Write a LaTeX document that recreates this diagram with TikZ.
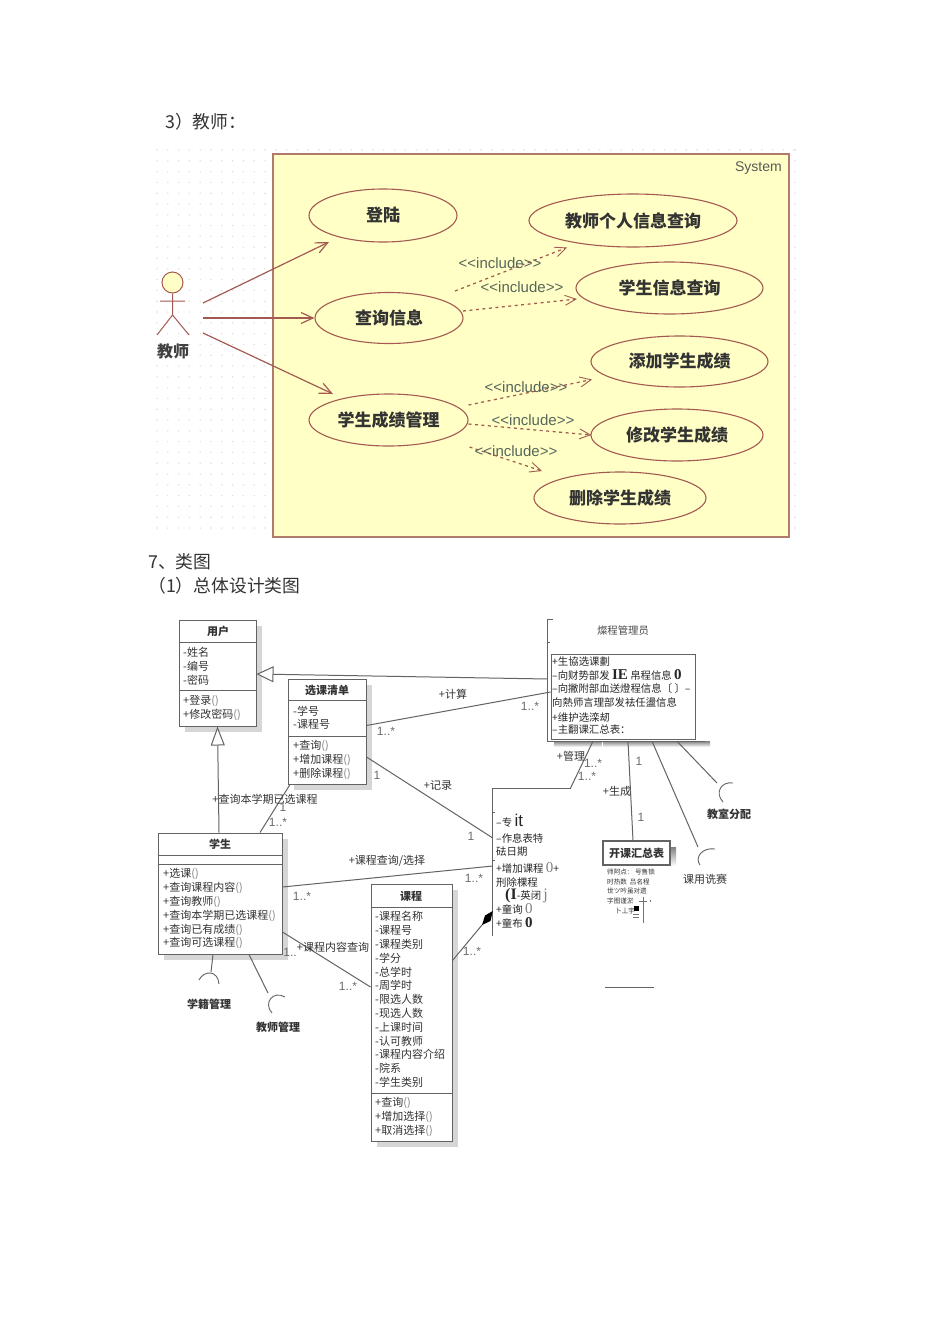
\documentclass[tikz,border=0pt]{standalone}
\usepackage{fontspec}
\setmainfont{Noto Sans CJK SC}
\newfontfamily\lat{Liberation Sans}
\newfontfamily\rom{Liberation Serif}
\usetikzlibrary{arrows.meta,shadows,shapes.geometric}
\definecolor{sysfill}{HTML}{FFFFC6}
\definecolor{brownline}{HTML}{A45A52}
\definecolor{sysline}{HTML}{B07A6C}
\definecolor{incl}{HTML}{56665A}
\definecolor{classline}{HTML}{636363}
\definecolor{shade}{HTML}{D6D6D6}
\definecolor{txt}{HTML}{333333}
\newcommand{\fs}[1]{\fontsize{#1}{#1}\selectfont}
\newcommand{\pp}{\textcolor{gray}{()}}
\tikzset{
  x=1pt,y=-1pt,
  para/.style={anchor=west,inner sep=0pt,font=\fs{17.8},text=txt},
  usecase/.style={ellipse,draw=brownline,fill=sysfill,line width=1.1pt,inner sep=0pt,font=\bfseries\fs{17},text=black!80},
  assoc/.style={draw=brownline,line width=1.2pt,-{Straight Barb[length=12pt,width=11pt]}},
  incline/.style={draw=brownline,line width=1.25pt,dash pattern=on 3pt off 3.5pt,-{Straight Barb[length=11pt,width=10pt,line width=.9pt]}},
  incllabel/.style={inner sep=0pt,font=\lat\fs{15},text=incl},
  classbox/.style={draw=classline,line width=1pt,fill=white,inner sep=0pt,general shadow={fill=shade,shadow xshift=6pt,shadow yshift=-6pt}},
  classname/.style={inner sep=0pt,font=\bfseries\fs{11},text=txt},
  members/.style={anchor=north west,inner sep=0pt,align=left,font=\fontsize{11}{13.8}\selectfont,text=txt},
  rel/.style={draw=classline,line width=1pt},
  relname/.style={inner sep=0pt,font=\fs{11},text=txt},
  mult/.style={inner sep=0pt,font=\lat\fs{12},text=gray!85!black},
  iface/.style={draw=classline,line width=.9pt},
  ifacename/.style={inner sep=0pt,font=\bfseries\fs{11},text=txt},
  mgrline/.style={anchor=west,inner sep=0pt,font=\fs{10.4},text=black!85},
  tiny/.style={anchor=west,inner sep=0pt,font=\fs{6.6},text=txt},
}
\begin{document}
\begin{tikzpicture}
\useasboundingbox (0,0) rectangle (950,1318);
\fill[white] (0,0) rectangle (950,1318);

\node[para] (h3) at (165,122) {3）教师：};
\node[para] (h7) at (148,562) {7、类图};
\node[para] (h1) at (148,586) {（1）总体设计类图};

% ---------- use case background dots
\foreach \i in {0,...,10}{\foreach \j in {0,...,35}{
  \fill[black!13] (157+\i*10.8,150+\j*10.8) circle (.8);}}
\foreach \i in {11,...,59}{\fill[black!13] (157+\i*10.8,150) circle (.8);}
\foreach \j in {0,...,35}{\fill[black!13] (795,150+\j*10.8) circle (.8);}

\node[draw=sysline,fill=sysfill,line width=1.5pt,minimum width=516pt,minimum height=383pt,inner sep=0pt] (system) at (531,345.5) {};
\node[inner sep=0pt,font=\lat\fs{14},text=black!65,anchor=east] (systitle) at (782,168) {System};

\node[usecase,minimum width=148pt,minimum height=53pt] (login) at (383,215.5) {登陆};
\node[usecase,minimum width=148pt,minimum height=51pt] (query) at (389,318) {查询信息};
\node[usecase,minimum width=159pt,minimum height=52pt] (score) at (388.5,420) {学生成绩管理};
\node[usecase,minimum width=208pt,minimum height=53pt] (tinfo) at (633,220.5) {教师个人信息查询};
\node[usecase,minimum width=187pt,minimum height=52pt] (sinfo) at (669.5,288) {学生信息查询};
\node[usecase,minimum width=177pt,minimum height=51pt] (addsc) at (679.5,361.5) {添加学生成绩};
\node[usecase,minimum width=172pt,minimum height=52pt] (modsc) at (677,435) {修改学生成绩};
\node[usecase,minimum width=172pt,minimum height=52pt] (delsc) at (620,498) {删除学生成绩};

% actor
\node[circle,draw=brownline,fill=sysfill,line width=1pt,minimum size=21pt,inner sep=0pt] (head) at (172.5,282.5) {};
\coordinate (hip) at (172.5,315);
\coordinate (armL) at (160,301);
\coordinate (armR) at (185,301);
\coordinate (legL) at (157,335);
\coordinate (legR) at (189,335);
\draw[brownline,line width=1pt] (head.south) -- (hip) (armL) -- (armR) (legL) -- (hip) -- (legR);
\node[inner sep=0pt,font=\bfseries\fs{16},text=black!75] (actorname) at (173,351) {教师};
\coordinate (actorA) at (203,303);
\coordinate (actorB) at (203,318);
\coordinate (actorC) at (203,333);

\draw[assoc] (actorA) -- (329,242) coordinate (loginEnd);
\draw[assoc] (actorB) -- (query.west);
\draw[assoc] (actorC) -- (333,394) coordinate (scoreEnd);

\draw[incline] ([shift={(66,-27)}]query.center) -- ([shift={(-66,27)}]tinfo.center);
\draw[incline] ([shift={(74,-7)}]query.center) -- ([shift={(-92.5,11)}]sinfo.center);
\draw[incline] ([shift={(80,-15)}]score.center) -- ([shift={(-87.5,18)}]addsc.center);
\draw[incline] ([shift={(80,4)}]score.center) -- ([xshift=1pt]modsc.west);
\draw[incline] ([shift={(81,27)}]score.center) -- ([shift={(-78,-27)}]delsc.center);

\node[incllabel] (i1) at (500,263) {<<include>>};
\node[incllabel] (i2) at (522,287) {<<include>>};
\node[incllabel] (i3) at (526,387) {<<include>>};
\node[incllabel] (i4) at (533,420) {<<include>>};
\node[incllabel] (i5) at (516,451) {<<include>>};

% ---------- class diagram
\node[classbox,minimum width=77pt,minimum height=106pt] (user) at (217.5,673) {};
\draw[classline,line width=1pt] ([yshift=-23pt]user.north west) -- ([yshift=-23pt]user.north east)
  ([yshift=-71pt]user.north west) -- ([yshift=-71pt]user.north east);
\node[classname] (userT) at (218,631) {用户};
\node[members] (userA) at (183,647.5) {-姓名\\-编号\\-密码};
\node[members] (userM) at (183,695) {+登录\pp\\+修改密码\pp};

\node[classbox,minimum width=78pt,minimum height=105pt] (list) at (327,731.5) {};
\draw[classline,line width=1pt] ([yshift=-22pt]list.north west) -- ([yshift=-22pt]list.north east)
  ([yshift=-58pt]list.north west) -- ([yshift=-58pt]list.north east);
\node[classname] (listT) at (327,690) {选课清单};
\node[members] (listA) at (293,705.5) {-学号\\-课程号};
\node[members] (listM) at (293,740.5) {+查询\pp\\+增加课程\pp\\+删除课程\pp};

\node[classbox,minimum width=124pt,minimum height=121pt] (student) at (220,893.5) {};
\draw[classline,line width=1pt] ([yshift=-23pt]student.north west) -- ([yshift=-23pt]student.north east)
  ([yshift=-32pt]student.north west) -- ([yshift=-32pt]student.north east);
\node[classname] (studentT) at (220,844) {学生};
\node[members] (studentM) at (163,868.5) {+选课\pp\\+查询课程内容\pp\\+查询教师\pp\\+查询本学期已选课程\pp\\+查询已有成绩\pp\\+查询可选课程\pp};

\node[classbox,minimum width=81pt,minimum height=257pt] (course) at (411.5,1012.5) {};
\draw[classline,line width=1pt] ([yshift=-24pt]course.north west) -- ([yshift=-24pt]course.north east)
  ([yshift=-210pt]course.north west) -- ([yshift=-210pt]course.north east);
\node[classname] (courseT) at (411,896) {课程};
\node[members] (courseA) at (375,911.5) {-课程名称\\-课程号\\-课程类别\\-学分\\-总学时\\-周学时\\-限选人数\\-现选人数\\-上课时间\\-认可教师\\-课程内容介绍\\-院系\\-学生类别};
\node[members] (courseM) at (375,1097.5) {+查询\pp\\+增加选择\pp\\+取消选择\pp};

% course manager fragment
\node[inner sep=0pt,minimum width=157pt,minimum height=121pt] (mgrFrame) at (626.5,680.5) {};
\fill[shade] (554,741) rectangle (710,747);
\draw[white,line width=1pt] (602,741) -- (602,747);
\draw[classline,line width=1.2pt] ([xshift=5pt]mgrFrame.north west) -- (mgrFrame.north west) -- (mgrFrame.south west) -- (mgrFrame.south east);
\draw[classline,line width=1pt] (548,642) -- (550,642);
\node[draw=classline,line width=1pt,fill=white,minimum width=144pt,minimum height=85pt,inner sep=0pt] (mgr) at (623,696.5) {};
\node[inner sep=0pt,font=\fs{10.4},text=black!70] (mgrT) at (623,631) {燦程管理员};
\node[mgrline] (m1) at (552,662) {+生協选课劃};
\node[mgrline] (m2) at (552,675) {–向财势部发 {\rom\bfseries\fs{15}IE} 帛程信息 {\rom\bfseries\fs{15}0}};
\node[mgrline] (m3) at (552,689) {–向撇附部血送燈程信息〔 〕–};
\node[mgrline] (m4) at (552,703) {向熱师言理部发袪任盪信息};
\node[mgrline] (m5) at (552,717) {+维护选滦刼};
\node[mgrline] (m6) at (552,730) {–主翻课汇总表：};

% timetable fragment
\node[inner sep=0pt,minimum width=77pt,minimum height=147pt] (frag) at (531.5,862.5) {};
\draw[classline,line width=1.3pt] (frag.north east) -- (frag.north west) -- (frag.south west);
\draw[classline,line width=1pt] (493,812) -- (495,812) (493,860) -- (495,860);
\node[mgrline] (f1) at (496,821) {–专 {\lat\fs{17}it}};
\node[mgrline] (f2) at (496,838) {–作息表特};
\node[mgrline] (f3) at (496,852) {砝日期};
\node[mgrline] (f4) at (496,868) {+增加课程 {\rom\fs{15}\textcolor{gray}{0}}+};
\node[mgrline] (f5) at (496,883) {刑除棵程};
\node[mgrline] (f6) at (505,896) {{\rom\bfseries\fs{16}(I}-英闭 {\rom\fs{16}\textcolor{gray}{j}}};
\node[mgrline] (f7) at (496,909) {+童询 {\rom\fs{15}\textcolor{gray}{0}}};
\node[mgrline] (f8) at (496,923) {+童布 {\rom\bfseries\fs{15}0}};

% summary class
\fill[shade] (670,847) rectangle (676,866);
\node[draw=classline,line width=1.2pt,fill=white,minimum width=67pt,minimum height=24pt,inner sep=0pt] (summary) at (636.5,853) {};
\node[classname] (summaryT) at (636.5,853) {开课汇总表};
\node[tiny] (s1) at (607,872) {师阿点： 号售锁};
\node[tiny] (s2) at (607,881.5) {时热数 \ 吕名程};
\node[tiny] (s3) at (607,891) {世ツ吟虽对遗};
\node[tiny] (s4) at (607,901) {字图谨淤};
\node[tiny] (s5) at (615,911) {卜丄宇};
\node[inner sep=0pt,fill=black,minimum size=5pt] (s6) at (636,908.5) {};
\draw[black!55,line width=.5pt] (643,897) -- (643,923) (639,901) -- (647,901) (650,900) -- (650,902) (633,914) -- (639,914) (633,917) -- (639,917);
\coordinate (ruleA) at (605,987);
\coordinate (ruleB) at (654,987);
\draw[classline,line width=.8pt] (ruleA) -- (ruleB);

% relations
\draw[rel,-{Triangle[open,fill=white,length=17pt,width=16pt]}] ([yshift=1.5pt]mgrFrame.west) -- ([yshift=-1pt]user.east);
\draw[rel,-{Triangle[open,fill=white,length=19pt,width=14pt]}] ([xshift=-1pt]student.north) -- (user.south);
\draw[rel] ([yshift=6pt]list.east) -- ([yshift=4.5pt]mgr.west);
\draw[rel] ([yshift=-25.5pt]list.east) -- ([yshift=24.5pt]frag.west);
\draw[rel] ([xshift=40pt]student.north) -- ([xshift=-37pt]list.south);
\draw[rel] ([yshift=6.5pt]student.east) -- ([yshift=-3.5pt]frag.west);
\draw[rel] ([yshift=-38.5pt]student.east) -- ([yshift=25.5pt]course.west);
\coordinate (diaBack) at (482,925);
\draw[rel] ([yshift=52pt]course.east) -- (diaBack);
\path[fill=black] ([yshift=-48.5pt]frag.west) -- (485,915.5) -- (diaBack) -- (490.5,921) -- cycle;
\draw[rel] ([xshift=-33.5pt]mgrFrame.south) -- (frag.north east);
\draw[rel] ([xshift=1.5pt]mgrFrame.south) -- ([xshift=-3.5pt]summary.north);
\coordinate (sockUse) at (698,847);
\coordinate (sockRoom) at (717,783);
\coordinate (sockReg) at (211,972);
\coordinate (sockTeach) at (268,993);
\draw[rel] ([xshift=25.5pt]mgrFrame.south) -- (sockUse);
\draw[rel] ([xshift=50.5pt]mgrFrame.south) -- (sockRoom);
\draw[rel] ([xshift=-7pt]student.south) -- (sockReg);
\draw[rel] ([xshift=29pt]student.south) -- (sockTeach);

\draw[iface] (733,783) .. controls (722,781) and (714,792) .. (723,802);
\draw[iface] (715,849) .. controls (703,847) and (694,857) .. (700,865);
\draw[iface] (199,980) .. controls (204,970) and (218,970) .. (219,984);
\draw[iface] (285,997) .. controls (273,990) and (263,1003) .. (272,1013);

\node[ifacename] (if1) at (729,814) {教室分配};
\node[relname] (if2) at (705,879) {课用诜赛};
\node[ifacename] (if3) at (209,1004) {学籍管理};
\node[ifacename] (if4) at (278,1027) {教师管理};

\node[relname] (r1) at (453,694) {+计算};
\node[relname] (r2) at (438,785) {+记录};
\node[relname] (r3) at (265,799) {+查询本学期已选课程};
\node[relname] (r4) at (387,861) {+课程查询/选择};
\node[relname] (r5) at (333,947) {+课程内容查询};
\node[relname] (r6) at (571,756) {+管理};
\node[relname] (r7) at (617,791) {+生成};

\node[mult] (k1) at (386,731) {1..*};
\node[mult] (k2) at (530,706) {1..*};
\node[mult] (k3) at (377,775) {1};
\node[mult] (k4) at (471,836) {1};
\node[mult] (k5) at (283,807) {1};
\node[mult] (k6) at (278,822) {1..*};
\node[mult] (k7) at (302,896) {1..*};
\node[mult] (k8) at (474,878) {1..*};
\node[mult] (k9) at (290,952) {1..};
\node[mult] (k10) at (348,986) {1..*};
\node[mult] (k11) at (472,951) {1..*};
\node[mult] (k12) at (593,763) {1..*};
\node[mult] (k13) at (587,776) {1..*};
\node[mult] (k14) at (639,761) {1};
\node[mult] (k15) at (641,817) {1};
\end{tikzpicture}
\end{document}
